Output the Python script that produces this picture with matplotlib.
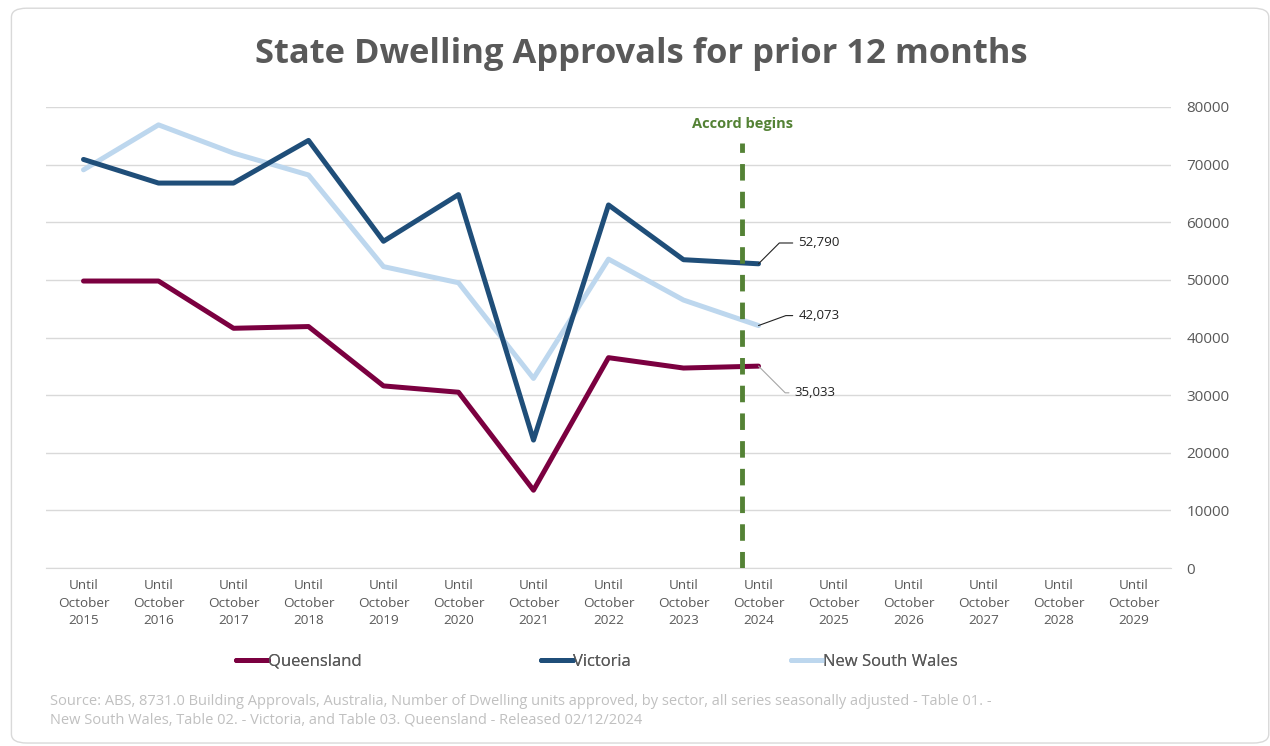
import matplotlib.pyplot as plt
from matplotlib.patches import FancyBboxPatch

plt.rcParams['font.family'] = ['Open Sans', 'DejaVu Sans']

# data
years = [2015, 2016, 2017, 2018, 2019, 2020, 2021, 2022, 2023, 2024,
         2025, 2026, 2027, 2028, 2029]
queensland = [49800, 49800, 41600, 41900, 31600, 30500, 13500, 36500, 34700, 35033]
victoria = [70900, 66800, 66800, 74200, 56700, 64800, 22200, 63000, 53500, 52790]
nsw = [69100, 76900, 72000, 68200, 52300, 49500, 32900, 53600, 46500, 42073]
accord_pos = 8.78

labels = ['Until\nOctober\n' + str(y) for y in years]

fig = plt.figure(figsize=(12.7, 7.46), dpi=100)
fig.patches.append(FancyBboxPatch((0.009, 0.004), 0.99, 0.985,
                                  boxstyle='round,pad=0,rounding_size=0.012',
                                  transform=fig.transFigure, fc='white',
                                  ec='#d9d9d9', lw=1.0, zorder=-10))
ax = fig.add_axes([46 / 1270, 1 - 568 / 746, 1125 / 1270, 461 / 746])

x = list(range(len(years)))
l_q, = ax.plot(x[:len(queensland)], queensland, color='#7b0040', lw=3.6,
               solid_capstyle='round', label='Queensland', zorder=3)
l_v, = ax.plot(x[:len(victoria)], victoria, color='#1f4e79', lw=3.6,
               solid_capstyle='round', label='Victoria', zorder=3)
l_n, = ax.plot(x[:len(nsw)], nsw, color='#bdd7ee', lw=3.6,
               solid_capstyle='round', label='New South Wales', zorder=2)

ax.axvline(accord_pos, ymin=0, ymax=0.922, color='#548235', lw=3.5,
           ls=(0, (3.4, 2.3)), zorder=4)
ax.text(accord_pos, 77000, 'Accord begins', color='#548235', fontsize=10.5,
        fontweight='bold', ha='center', va='center')

# end-of-series value labels
last = len(victoria) - 1
ax.annotate(f'{victoria[-1]:,}', xy=(last, victoria[-1]), xytext=(last + 0.53, 56400),
            fontsize=9.5, color='#222222', va='center',
            arrowprops=dict(arrowstyle='-', color='#222222', lw=0.8,
                            connectionstyle='angle,angleA=0,angleB=45,rad=0',
                            shrinkA=2, shrinkB=0))
ax.annotate(f'{nsw[-1]:,}', xy=(last, nsw[-1]), xytext=(last + 0.53, 43800),
            fontsize=9.5, color='#222222', va='center',
            arrowprops=dict(arrowstyle='-', color='#222222', lw=0.8,
                            connectionstyle='angle,angleA=0,angleB=20,rad=0',
                            shrinkA=2, shrinkB=0))
ax.annotate(f'{queensland[-1]:,}', xy=(last, queensland[-1]), xytext=(last + 0.48, 30400),
            fontsize=9.5, color='#222222', va='center',
            arrowprops=dict(arrowstyle='-', color='#a6a6a6', lw=0.8,
                            connectionstyle='angle,angleA=0,angleB=-45,rad=0',
                            shrinkA=2, shrinkB=0))

ax.set_xlim(-0.5, len(years) - 0.5)
ax.set_ylim(0, 80000)
ax.set_yticks(range(0, 80001, 10000))
ax.set_xticks(x)
ax.set_xticklabels(labels, fontsize=9.7, color='#595959', linespacing=1.45)
ax.yaxis.tick_right()
ax.tick_params(axis='y', length=0, pad=11, labelsize=11, labelcolor='#595959')
ax.tick_params(axis='x', length=0, pad=8)
for lbl in ax.get_yticklabels():
    lbl.set_horizontalalignment('left')
ax.grid(axis='y', color='#d9d9d9', lw=1.0)
ax.set_axisbelow(True)
for s in ['top', 'right', 'left']:
    ax.spines[s].set_visible(False)
ax.spines['bottom'].set_color('#d9d9d9')

fig.text(0.505, 0.928, 'State Dwelling Approvals for prior 12 months',
         ha='center', va='center', fontsize=24.8, fontweight='bold', color='#595959')

# legend entries spread out like the original
for handle, xpos in [(l_q, 236), (l_v, 541), (l_n, 791)]:
    fig.add_artist(fig.legend(handles=[handle], loc='center left',
                              bbox_to_anchor=(xpos / 1270, 1 - 662 / 746),
                              frameon=False, fontsize=12, handlelength=1.9,
                              handletextpad=0.0, labelcolor='#595959',
                              borderpad=0, borderaxespad=0))

fig.text(0.039, 1 - 711 / 746,
         'Source: ABS, 8731.0 Building Approvals, Australia, Number of Dwelling units approved, '
         'by sector, all series seasonally adjusted - Table 01. -\nNew South Wales, Table 02. - '
         'Victoria, and Table 03. Queensland - Released 02/12/2024',
         fontsize=10.5, color='#c0c0c0', va='center', linespacing=1.3)

fig.savefig('out.png', dpi=100)
